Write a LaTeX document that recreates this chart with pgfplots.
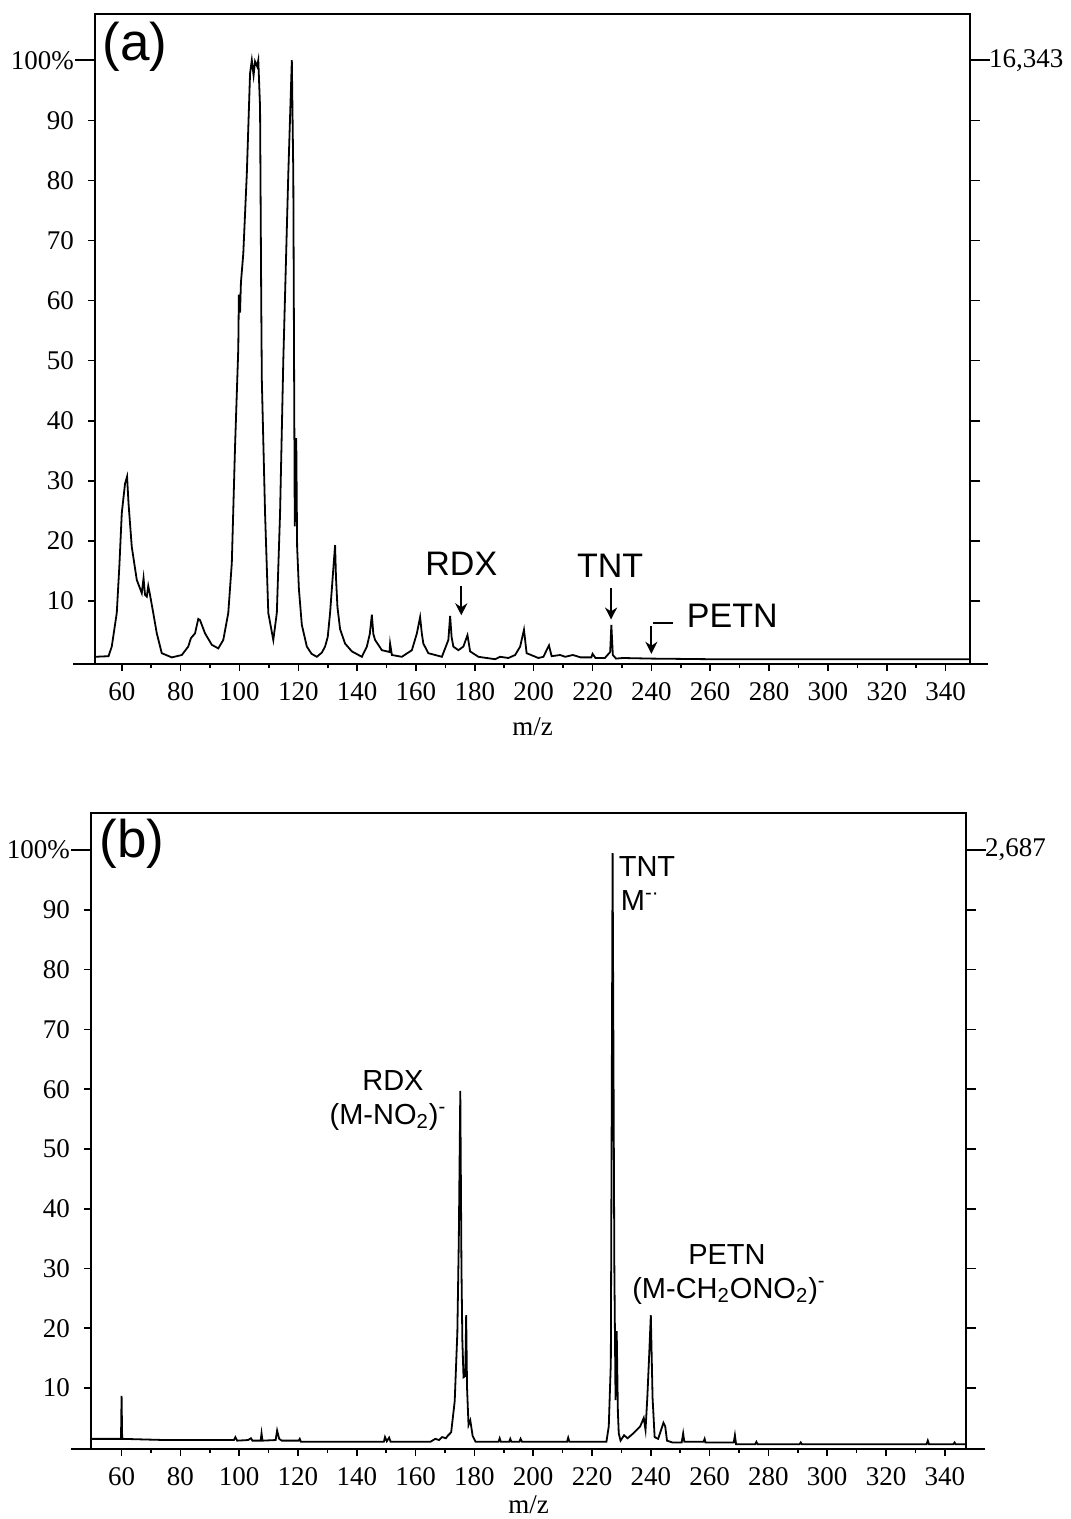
\documentclass[border=0pt]{standalone}
\usepackage{fontspec}
\setmainfont{Liberation Serif}
\newfontfamily\arial{Liberation Sans}
\usepackage{pgfplots}
\pgfplotsset{compat=1.18}
\usepackage{pgfplotstable}
\usetikzlibrary{arrows.meta}

% spectrum (a): m/z vs relative intensity (%)
\pgfplotstableread{
mz pct
50.9 0.7
55.5 0.8
56.6 2.4
58.3 8.0
59.2 16.0
60.0 24.6
61.1 29.5
61.8 30.7
62.3 26.2
63.4 19.0
65.1 13.5
66.8 11.3
67.4 13.8
67.9 11.0
68.5 10.7
69.0 12.5
69.6 11.0
70.7 8.0
71.9 4.6
73.6 1.3
77.0 0.6
80.4 1.0
82.6 2.4
83.5 3.8
84.9 4.6
86.0 7.0
86.6 6.8
88.3 4.6
90.6 2.7
92.8 2.1
94.5 3.5
96.2 8.0
97.4 16.3
98.5 35.7
99.6 52.0
99.8 61.0
100.2 58.0
100.5 63.0
101.3 67.8
102.5 81.1
103.6 97.8
104.2 100
104.8 97.5
105.3 99.8
106.0 99.0
106.4 100
107.0 92.2
107.4 60.0
107.6 46.8
108.7 24.6
109.8 8.0
111.5 3.5
112.7 8.0
113.8 24.6
114.9 50.0
116.6 81.1
117.8 100
118.3 81.0
118.6 45.0
118.8 22.4
119.3 37.1
119.6 19.0
120.2 12.0
121.2 6.0
122.9 2.4
124.5 1.2
126.3 0.7
128.0 1.4
129.1 2.4
130.0 4.0
130.8 8.0
131.7 14.0
132.5 19.3
132.8 14.0
133.3 9.0
134.2 5.3
135.9 2.9
138.2 1.6
141.6 0.7
143.3 2.4
144.3 4.5
145.0 7.7
145.5 4.5
146.1 3.5
148.4 1.8
151.0 1.5
151.2 2.9
151.8 1.0
155.2 0.7
158.6 1.8
160.3 4.6
161.4 7.3
162.0 4.5
162.5 2.9
164.2 1.3
168.8 0.7
171.0 3.5
171.6 7.5
172.1 4.0
172.7 2.4
174.4 1.8
176.1 2.4
177.5 4.3
178.4 1.6
181.2 0.7
186.9 0.3
188.6 0.7
191.4 0.5
193.7 1.0
195.4 2.4
196.7 5.2
197.6 1.3
201.6 0.5
203.3 0.7
205.2 2.6
206.1 0.8
209.0 1.0
210.7 0.7
213.3 1.0
216.0 0.6
219.6 0.6
220.0 1.2
221.0 0.5
224.2 0.5
226.0 1.5
226.4 6.0
226.9 1.0
228.0 0.4
230.3 0.5
240.0 0.4
260.0 0.3
300.0 0.3
348.3 0.3
}\specA

% spectrum (b)
\pgfplotstableread{
mz pct
49.6 1.5
59.8 1.5
60.0 8.7
60.2 1.5
75.0 1.3
98.2 1.3
98.7 1.8
99.3 1.2
103.0 1.3
104.0 1.6
104.5 1.2
107.3 1.2
107.6 2.4
107.9 1.2
112.4 1.3
112.9 2.9
113.6 1.5
114.5 1.2
120.2 1.2
120.6 1.5
121.0 1.0
149.2 1.0
149.6 1.8
150.2 1.1
151.0 1.7
151.5 1.0
165.0 1.0
166.7 1.5
168.0 1.3
169.0 1.8
170.3 1.6
170.9 2.0
172.1 2.6
173.3 7.8
174.2 19.3
174.7 35.0
175.2 59.7
175.6 30.0
175.9 18.0
176.3 11.8
176.9 12.0
177.2 22.2
177.5 10.0
178.0 3.8
178.6 4.6
179.4 2.0
180.4 1.0
188.2 1.0
188.6 1.6
189.0 1.0
191.8 1.0
192.2 1.5
192.6 1.0
195.3 1.0
195.7 1.5
196.2 1.0
211.5 1.0
211.9 1.7
212.3 1.0
224.9 1.0
225.7 3.6
226.4 14.2
227.0 99.5
227.6 30.0
228.0 8.0
228.4 19.5
228.8 6.0
229.1 2.4
229.7 1.2
230.9 2.1
232.1 1.6
234.0 2.4
235.2 3.0
236.4 3.6
237.6 5.0
238.2 3.0
238.8 8.3
239.4 15.0
240.0 22.2
240.6 8.3
241.3 1.8
242.5 1.5
244.3 4.2
244.9 3.6
245.5 1.2
247.3 0.9
250.5 0.9
251.0 2.4
251.4 1.0
257.9 1.0
258.3 1.5
258.6 0.9
268.2 0.9
268.6 2.1
269.0 0.6
275.5 0.6
275.9 1.0
276.3 0.6
290.6 0.6
291.0 0.9
291.4 0.6
333.8 0.6
334.2 1.2
334.6 0.6
342.9 0.6
343.3 0.9
343.7 0.6
347.2 0.6
}\specB

\pgfplotsset{
  msleft/.style={
    scale only axis, width=437.5pt, clip=false,
    axis line style={line width=1pt},
    tick align=outside, xtick pos=bottom, ytick pos=left,
    xtick={60,80,...,340}, minor xtick={70,90,...,330},
    ytick={10,20,...,100}, yticklabels={10,20,30,40,50,60,70,80,90,100\%},
    major tick length=3.5pt, minor tick length=2pt,
    tick style={line width=0.8pt, black},
    ticklabel style={font=\fontsize{13.5}{16}\selectfont},
    /pgf/number format/assume math mode=true,
    xticklabel style={anchor=center, yshift=-10.5pt},
    yticklabel style={anchor=east, xshift=-3.5pt},
    xlabel={m/z},
    xlabel style={font=\fontsize{13.5}{16}\selectfont, at={(axis description cs:0.5,0)}, anchor=center},
  },
  msright/.style={
    scale only axis, width=437.5pt, clip=false,
    axis x line=none, axis y line*=right,
    axis line style={line width=1pt},
    tick align=outside,
    ytick={10,20,...,100},
    major tick length=5pt,
    tick style={line width=0.8pt, black},
    ticklabel style={font=\fontsize{13.5}{16}\selectfont},
    yticklabel style={anchor=west, xshift=1pt},
  },
}

\begin{document}
\begin{tikzpicture}
\path[use as bounding box] (0,-759.5pt) rectangle (535pt,0);

% ---------- panel (a)
\begin{axis}[msleft, height=325pt, at={(47.5pt,-332pt)}, anchor=south west,
  xmin=50.9, xmax=348.3, ymin=-0.5, ymax=107.7,
  xlabel style={yshift=-31.5pt}]
\addplot[line width=0.9pt, black] table[x=mz, y=pct] {\specA};
\draw[line width=1pt] (rel axis cs:-0.025,0) -- (rel axis cs:1.021,0);
\draw[line width=0.8pt] (axis cs:50.9,100) -- ++(-10pt,0pt);
\node[font=\arial\fontsize{26.5}{30}\selectfont] at (axis cs:64.5,102.2) {(a)};
\begin{scope}[font=\arial\fontsize{17}{20}\selectfont]
\node at (axis cs:175.4,16.1) {RDX};
\draw[line width=1pt, -{Stealth[length=6pt,width=6pt]}] (axis cs:175.4,12.5) -- (axis cs:175.4,7.6);
\node at (axis cs:226,15.8) {TNT};
\draw[line width=1pt, -{Stealth[length=6pt,width=6pt]}] (axis cs:226.3,12.1) -- (axis cs:226.3,6.9);
\node at (axis cs:267.5,7.5) {PETN};
\draw[line width=1pt] (axis cs:240.4,6.3) -- (axis cs:247.2,6.3);
\draw[line width=1pt, -{Stealth[length=6pt,width=6pt]}] (axis cs:240.0,5.9) -- (axis cs:240.0,1.2);
\end{scope}
\end{axis}
\begin{axis}[msright, height=325pt, at={(47.5pt,-332pt)}, anchor=south west,
  xmin=50.9, xmax=348.3, ymin=-0.5, ymax=107.7,
  yticklabels={,,,,,,,,,{16{,}343}}]
\draw[line width=0.8pt] (axis cs:348.3,100) -- ++(10pt,0pt);
\end{axis}

% ---------- panel (b)
\begin{axis}[msleft, height=318pt, at={(45.5pt,-724.5pt)}, anchor=south west,
  xmin=49.6, xmax=347.2, ymin=-0.2, ymax=106.2,
  xlabel style={yshift=-28pt}]
\addplot[line width=0.9pt, black] table[x=mz, y=pct] {\specB};
\draw[line width=1pt] (rel axis cs:-0.023,0) -- (rel axis cs:1.022,0);
\draw[line width=0.8pt] (axis cs:49.6,100) -- ++(-10pt,0pt);
\node[font=\arial\fontsize{26.5}{30}\selectfont] at (axis cs:63.6,101.0) {(b)};
\begin{scope}[font=\arial\fontsize{14.5}{17}\selectfont]
\node at (axis cs:152.3,61.4) {RDX};
\node at (axis cs:150.6,55.4) {(M-NO\textsubscript{2})\textsuperscript{-}};
\node at (axis cs:238.7,97.3) {TNT};
\node at (axis cs:236.4,91.6) {M\textsuperscript{-·}};
\node at (axis cs:265.9,32.4) {PETN};
\node at (axis cs:266.6,26.3) {(M-CH\textsubscript{2}ONO\textsubscript{2})\textsuperscript{-}};
\end{scope}
\end{axis}
\begin{axis}[msright, height=318pt, at={(45.5pt,-724.5pt)}, anchor=south west,
  xmin=49.6, xmax=347.2, ymin=-0.2, ymax=106.2,
  yticklabels={,,,,,,,,,{2{,}687}}]
\draw[line width=0.8pt] (axis cs:347.2,100) -- ++(10pt,0pt);
\end{axis}
\end{tikzpicture}
\end{document}
